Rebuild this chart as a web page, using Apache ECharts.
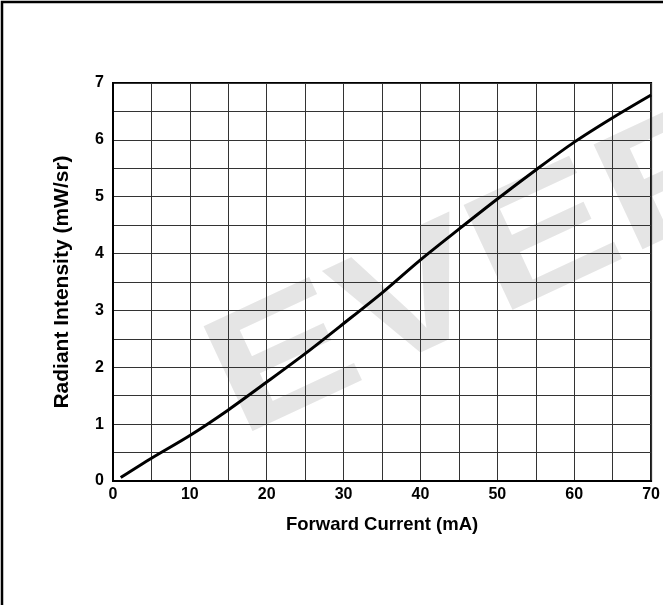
<!DOCTYPE html>
<html>
<head>
<meta charset="utf-8">
<script src="https://cdn.jsdelivr.net/npm/echarts@6/dist/echarts.min.js"></script>
<style>
html,body{margin:0;padding:0;background:#fff;}
#chart{width:663px;height:605px;}
</style>
</head>
<body>
<div id="chart"></div>
<script>
// Data
const forwardCurrent = [1, 5, 10, 15, 20, 25, 30, 35, 40, 45, 50, 55, 60, 65, 70];
const radiantIntensity = [0.06, 0.40, 0.80, 1.25, 1.74, 2.24, 2.77, 3.31, 3.89, 4.43, 4.96, 5.47, 5.96, 6.39, 6.79];
const xTickLabels = [0, 10, 20, 30, 40, 50, 60, 70];
const yTickLabels = [0, 1, 2, 3, 4, 5, 6, 7];
const xTitle = 'Forward Current (mA)';
const yTitle = 'Radiant Intensity (mW/sr)';
const watermark = 'EVERLIGHT';

const chart = echarts.init(document.getElementById('chart'), null, {renderer: 'canvas'});
const font = '"Liberation Sans", Arial, Helvetica, sans-serif';

chart.setOption({
  backgroundColor: '#fff',
  animation: false,
  graphic: [
    {
      type: 'rect',
      z: 100,
      shape: {x: 2, y: 2, width: 800, height: 800},
      style: {fill: 'none', stroke: '#000', lineWidth: 2.5}
    },
    {
      type: 'text',
      z: -10,
      x: 220, y: 395,
      rotation: 25 * Math.PI / 180,
      scaleX: 1.28,
      style: {
        text: watermark,
        fill: '#e5e5e5',
        font: 'bold 168px ' + font,
        textAlign: 'left',
        textVerticalAlign: 'middle'
      }
    }
  ],
  grid: {
    left: 113, top: 83, width: 541, height: 398,
    show: true, borderColor: '#000', borderWidth: 2,
    backgroundColor: 'transparent'
  },
  xAxis: {
    type: 'value', min: 0, max: 70, interval: 5,
    name: xTitle, nameLocation: 'middle', nameGap: 34,
    nameTextStyle: {fontFamily: font, fontWeight: 'bold', fontSize: 18.5, color: '#000'},
    axisLine: {show: true, lineStyle: {color: '#000', width: 2}},
    axisTick: {show: false},
    axisLabel: {
      margin: 6, fontFamily: font, fontWeight: 'bold', fontSize: 16, color: '#000',
      formatter: v => xTickLabels.includes(v) ? String(v) : ''
    },
    splitLine: {show: true, lineStyle: {color: '#333', width: 1}}
  },
  yAxis: {
    type: 'value', min: 0, max: 7, interval: 0.5,
    name: yTitle, nameLocation: 'middle', nameGap: 40, nameRotate: 90,
    nameTextStyle: {fontFamily: font, fontWeight: 'bold', fontSize: 21, color: '#000'},
    axisLine: {show: true, lineStyle: {color: '#000', width: 2}},
    axisTick: {show: false},
    axisLabel: {
      margin: 9, fontFamily: font, fontWeight: 'bold', fontSize: 16, color: '#000',
      formatter: v => yTickLabels.includes(v) ? String(v) : ''
    },
    splitLine: {show: true, lineStyle: {color: '#333', width: 1}}
  },
  series: [{
    type: 'line',
    data: forwardCurrent.map((x, i) => [x, radiantIntensity[i]]),
    smooth: 0.3,
    showSymbol: false,
    lineStyle: {color: '#000', width: 3},
    z: 5
  }]
});
</script>
</body>
</html>
